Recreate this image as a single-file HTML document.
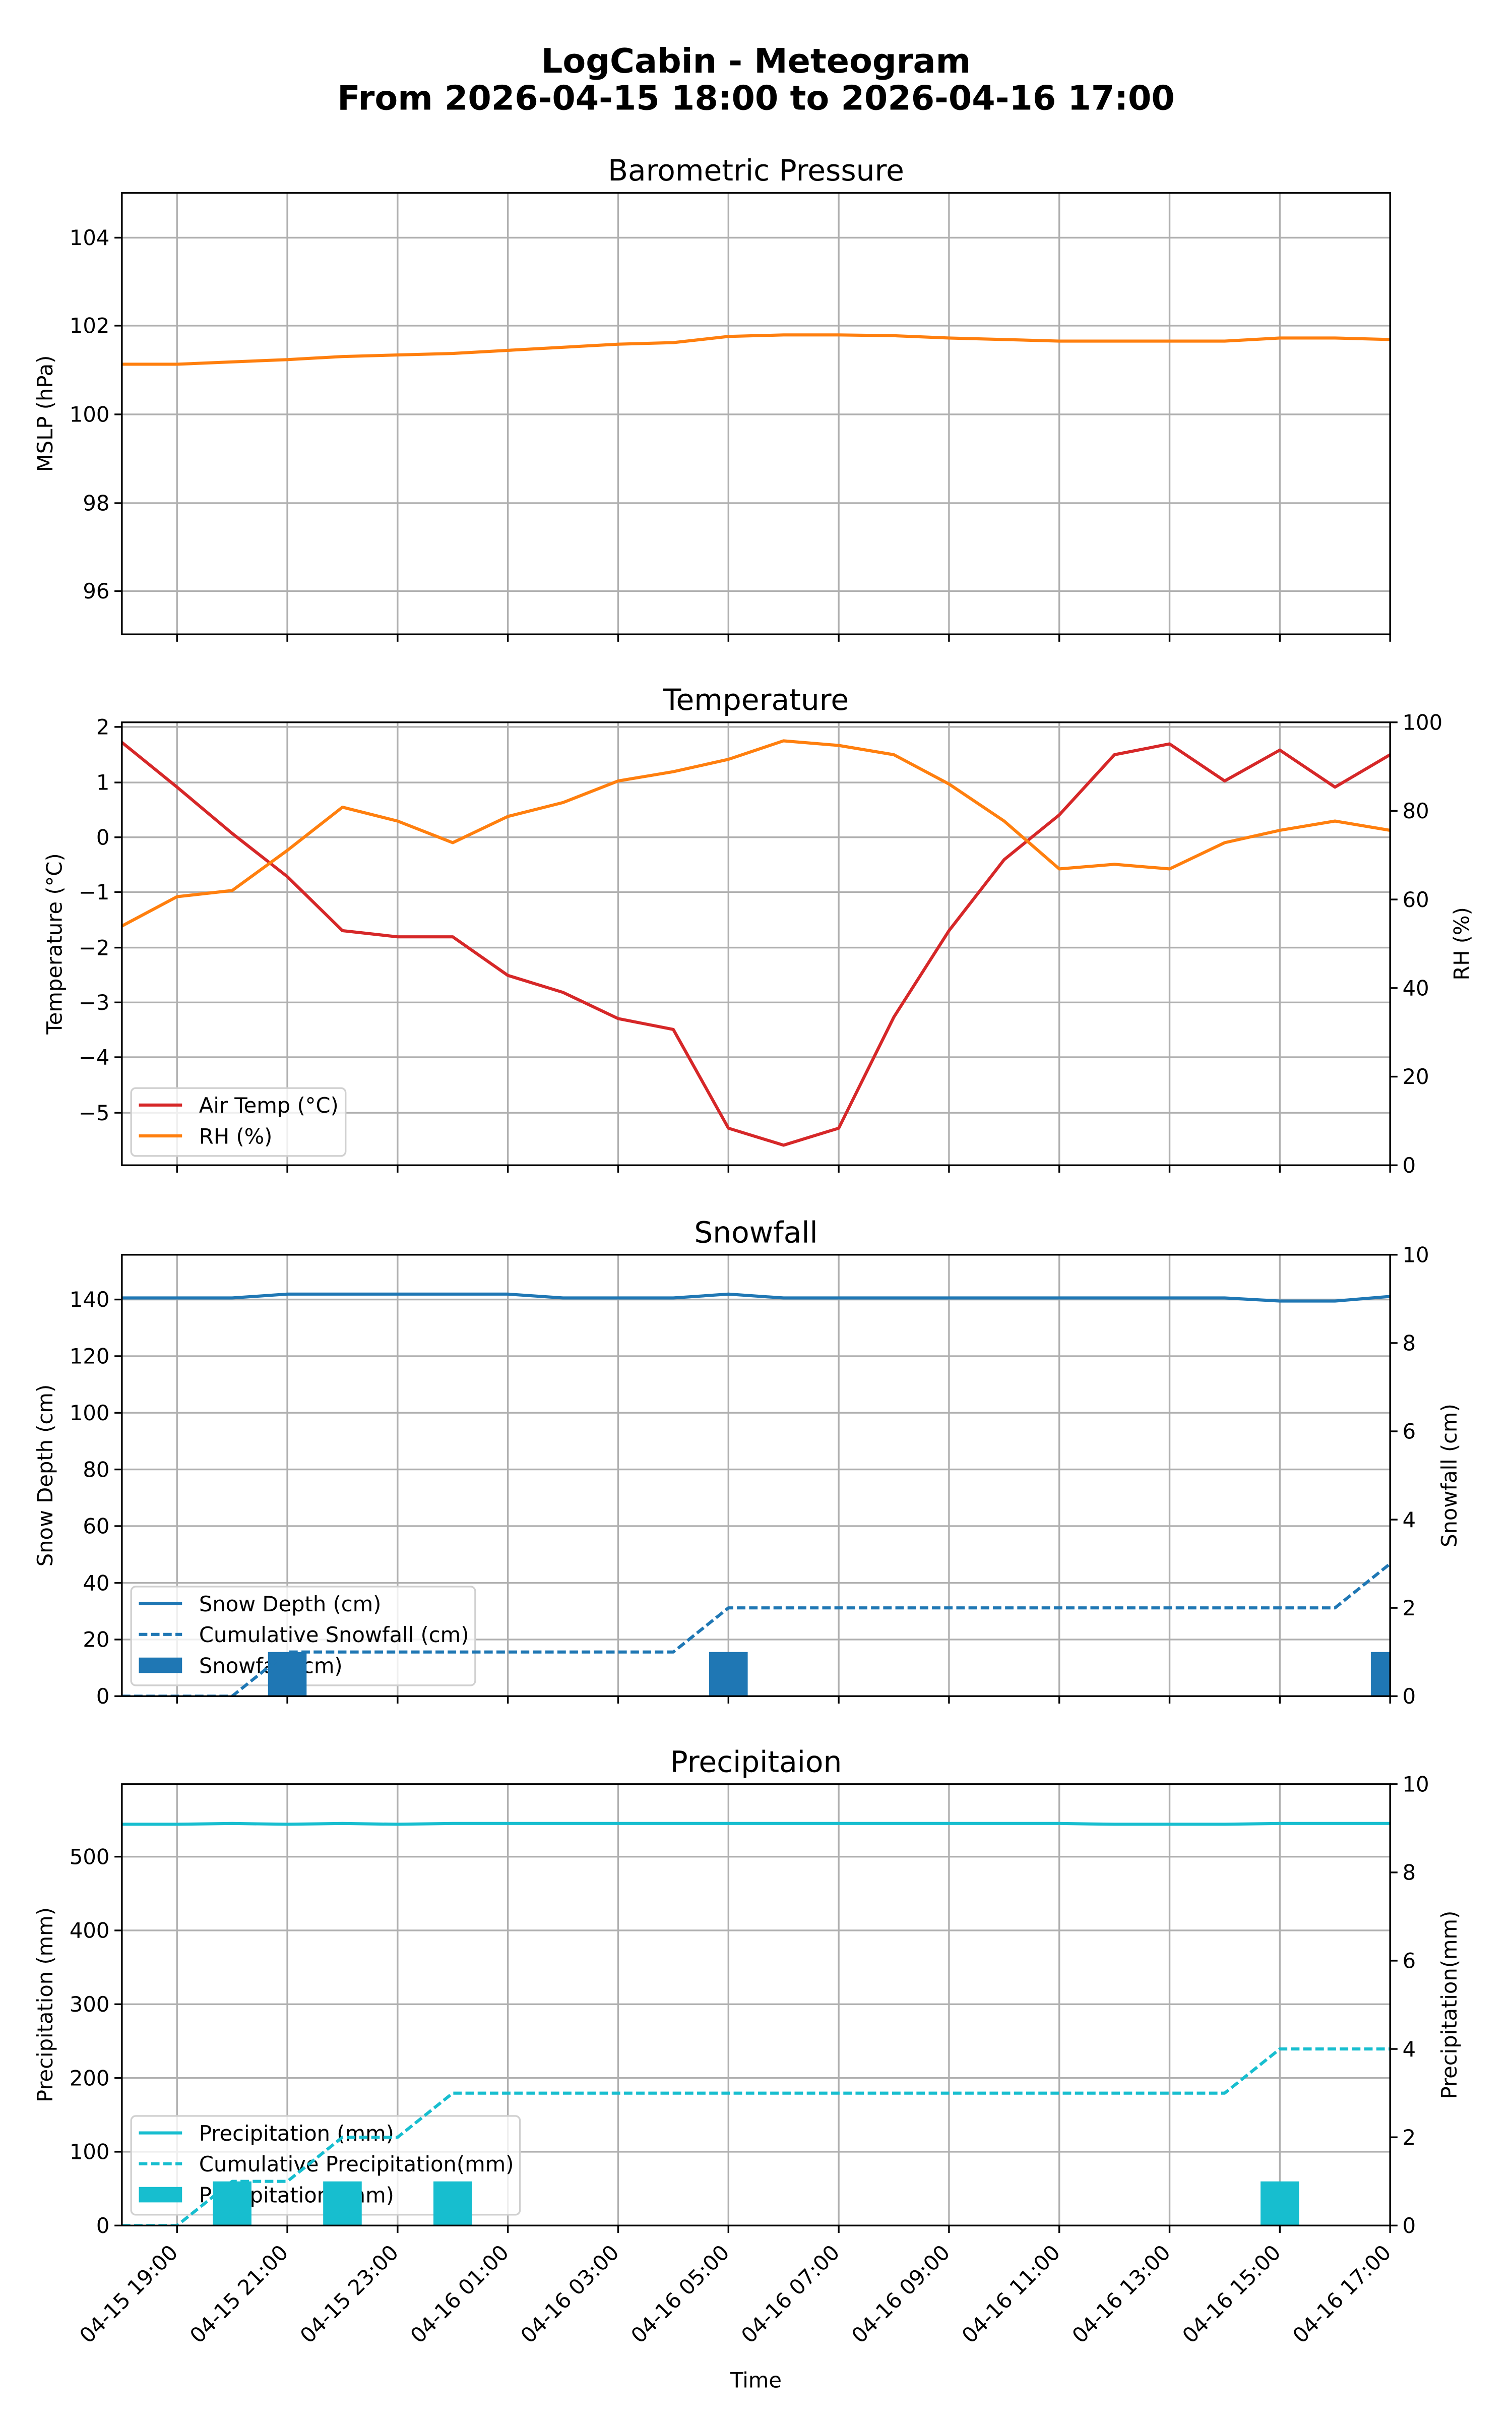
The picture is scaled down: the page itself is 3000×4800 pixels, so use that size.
<!DOCTYPE html>
<html><head><meta charset="utf-8"><style>
html,body{margin:0;padding:0;background:#fff;}
svg{display:block;}
text{font-family:"DejaVu Sans","Liberation Sans",sans-serif;fill:#000;}
</style></head><body>
<svg id="s" xmlns="http://www.w3.org/2000/svg" width="3000" height="4800" viewBox="0 0 980 1568"></svg>
<script>
var S=document.getElementById('s');var o='';
var L=79,R=901,FS=13.6;
function X(i){return L+i*(R-L)/23;}
function line(x1,y1,x2,y2,c,w,extra){o+='<line x1="'+x1+'" y1="'+y1+'" x2="'+x2+'" y2="'+y2+'" stroke="'+c+'" stroke-width="'+w+'" '+(extra||'')+'/>';}
function txt(x,y,t,a,extra){o+='<text x="'+x+'" y="'+y+'" text-anchor="'+(a||'start')+'" '+(extra||'')+'>'+t+'</text>';}
function poly(ys,c,dash){var p=[];for(var i=0;i<ys.length;i++)p.push(X(i).toFixed(2)+','+ys[i]);o+='<polyline points="'+p.join(' ')+'" fill="none" stroke="'+c+'" stroke-width="2" stroke-linejoin="round" '+(dash?'stroke-dasharray="5.5,2.4"':'')+'/>';}
var xt=[1,3,5,7,9,11,13,15,17,19,21,23];
var xl=['04-15 19:00','04-15 21:00','04-15 23:00','04-16 01:00','04-16 03:00','04-16 05:00','04-16 07:00','04-16 09:00','04-16 11:00','04-16 13:00','04-16 15:00','04-16 17:00'];
function legend(x,y,w,items){
 var h=items.length*20+4;
 o+='<rect x="'+x+'" y="'+y+'" width="'+w+'" height="'+h+'" rx="3" fill="#fff" fill-opacity="0.8" stroke="#d0d0d0" stroke-width="1.1"/>';
 items.forEach(function(it,k){var yy=y+11+k*20;
  if(it[2]=='bar')o+='<rect x="'+(x+5)+'" y="'+(yy-5)+'" width="28" height="10" fill="'+it[1]+'"/>';
  else line(x+5,yy,x+33,yy,it[1],2,it[2]=='dash'?'stroke-dasharray="5.5,2.4"':'');
  txt(x+44,yy+5,it[0],'start','font-size="'+FS+'"');});
}
function panel(T,B,title,lt,lty,ylab,rt,rty,rlab,drawL,leg,drawR){
 o+='<defs><clipPath id="c'+T+'"><rect x="'+L+'" y="'+T+'" width="'+(R-L)+'" height="'+(B-T)+'"/></clipPath></defs>';
 xt.forEach(function(i){line(X(i),T,X(i),B,'#b0b0b0',1.1);});
 lty.forEach(function(y){line(L,y,R,y,'#b0b0b0',1.1);});
 o+='<g clip-path="url(#c'+T+')">';drawL();o+='</g>';
 if(leg)legend.apply(null,leg);
 if(drawR){o+='<g clip-path="url(#c'+T+')">';drawR();o+='</g>';}
 o+='<rect x="'+L+'" y="'+T+'" width="'+(R-L)+'" height="'+(B-T)+'" fill="none" stroke="#000" stroke-width="1.1"/>';
 xt.forEach(function(i){line(X(i),B,X(i),B+4.8,'#000',1.1);});
 lt.forEach(function(t,k){line(L-4.8,lty[k],L,lty[k],'#000',1.1);txt(L-8,lty[k]+4.8,t,'end','font-size="'+FS+'"');});
 if(rt){rt.forEach(function(t,k){line(R,rty[k],R+4.8,rty[k],'#000',1.1);txt(R+8,rty[k]+4.8,t,'start','font-size="'+FS+'"');});}
 txt(490,T-8,title,'middle','font-size="19"');
 var cy=(T+B)/2;
 o+='<text x="0" y="0" font-size="'+FS+'" text-anchor="middle" transform="translate('+(ylab[1])+','+cy+') rotate(-90)">'+ylab[0]+'</text>';
 if(rlab)o+='<text x="0" y="0" font-size="'+FS+'" text-anchor="middle" transform="translate('+(rlab[1])+','+cy+') rotate(-90)">'+rlab[0]+'</text>';
}
function bars(idx,top,base,c){idx.forEach(function(i){o+='<rect x="'+(X(i)-12.5)+'" y="'+top+'" width="25" height="'+(base-top)+'" fill="'+c+'"/>';});}

txt(490,47,'LogCabin - Meteogram','middle','font-size="21.8" font-weight="bold"');
txt(490,71,'From 2026-04-15 18:00 to 2026-04-16 17:00','middle','font-size="21.8" font-weight="bold"');

panel(125,411,'Barometric Pressure',['96','98','100','102','104'],[383,326,268.5,211,154],['MSLP (hPa)',34],null,null,null,function(){
 poly([236,236,234.5,233,231,230,229,227,225,223,222,218,217,217,217.5,219,220,221,221,221,221,219,219,220],'#ff7f0e');
});
panel(468,755,'Temperature',['−5','−4','−3','−2','−1','0','1','2'],[721,685,649.5,614,578,542.5,507,471],['Temperature (°C)',40],['0','20','40','60','80','100'],[755,697.6,640.2,582.8,525.4,468],['RH (%)',952],function(){
 poly([481,510,540,568,603,607,607,632,643,660,667,731,742,731,659,603,557,528,489,482,506,486,510,489],'#d62728');
 poly([600,581,577,551,523,532,546,529,520,506,500,492,480,483,489,508,532,563,560,563,546,538,532,538],'#ff7f0e');
},[85,705,139,[['Air Temp (°C)','#d62728'],['RH (%)','#ff7f0e']]]);
panel(813,1099,'Snowfall',['0','20','40','60','80','100','120','140'],[1099,1062.3,1025.6,988.8,952.1,915.4,878.7,842],['Snow Depth (cm)',34],['0','2','4','6','8','10'],[1099,1041.8,984.6,927.4,870.2,813],['Snowfall (cm)',944],function(){
 poly([841,841,841,838.5,838.5,838.5,838.5,838.5,841,841,841,838.5,841,841,841,841,841,841,841,841,841,843,843,840],'#1f77b4');
},[85,1028,223,[['Snow Depth (cm)','#1f77b4'],['Cumulative Snowfall (cm)','#1f77b4','dash'],['Snowfall (cm)','#1f77b4','bar']]],function(){
 bars([3,11,23],1070.4,1099,'#1f77b4');
 poly([1099,1099,1099,1070.4,1070.4,1070.4,1070.4,1070.4,1070.4,1070.4,1070.4,1041.8,1041.8,1041.8,1041.8,1041.8,1041.8,1041.8,1041.8,1041.8,1041.8,1041.8,1041.8,1013.2],'#1f77b4',true);
});
panel(1156,1442,'Precipitaion',['0','100','200','300','400','500'],[1442,1394.2,1346.4,1298.6,1250.8,1203],['Precipitation (mm)',34],['0','2','4','6','8','10'],[1442,1384.8,1327.6,1270.4,1213.2,1156],['Precipitation(mm)',944],function(){
 poly([1182,1182,1181.5,1182,1181.5,1182,1181.5,1181.5,1181.5,1181.5,1181.5,1181.5,1181.5,1181.5,1181.5,1181.5,1181.5,1181.5,1182,1182,1182,1181.5,1181.5,1181.5],'#17becf');
},[85,1371,252,[['Precipitation (mm)','#17becf'],['Cumulative Precipitation(mm)','#17becf','dash'],['Precipitation (mm)','#17becf','bar']]],function(){
 bars([2,4,6,21],1413.4,1442,'#17becf');
 poly([1442,1442,1413.4,1413.4,1384.8,1384.8,1356.2,1356.2,1356.2,1356.2,1356.2,1356.2,1356.2,1356.2,1356.2,1356.2,1356.2,1356.2,1356.2,1356.2,1356.2,1327.6,1327.6,1327.6],'#17becf',true);
});
xt.forEach(function(i,k){o+='<text x="0" y="0" font-size="'+FS+'" text-anchor="end" dominant-baseline="central" transform="translate('+(X(i)-2)+',1457) rotate(-45)">'+xl[k]+'</text>';});
txt(490,1547,'Time','middle','font-size="'+FS+'"');
S.innerHTML=o;
</script>
</body></html>
